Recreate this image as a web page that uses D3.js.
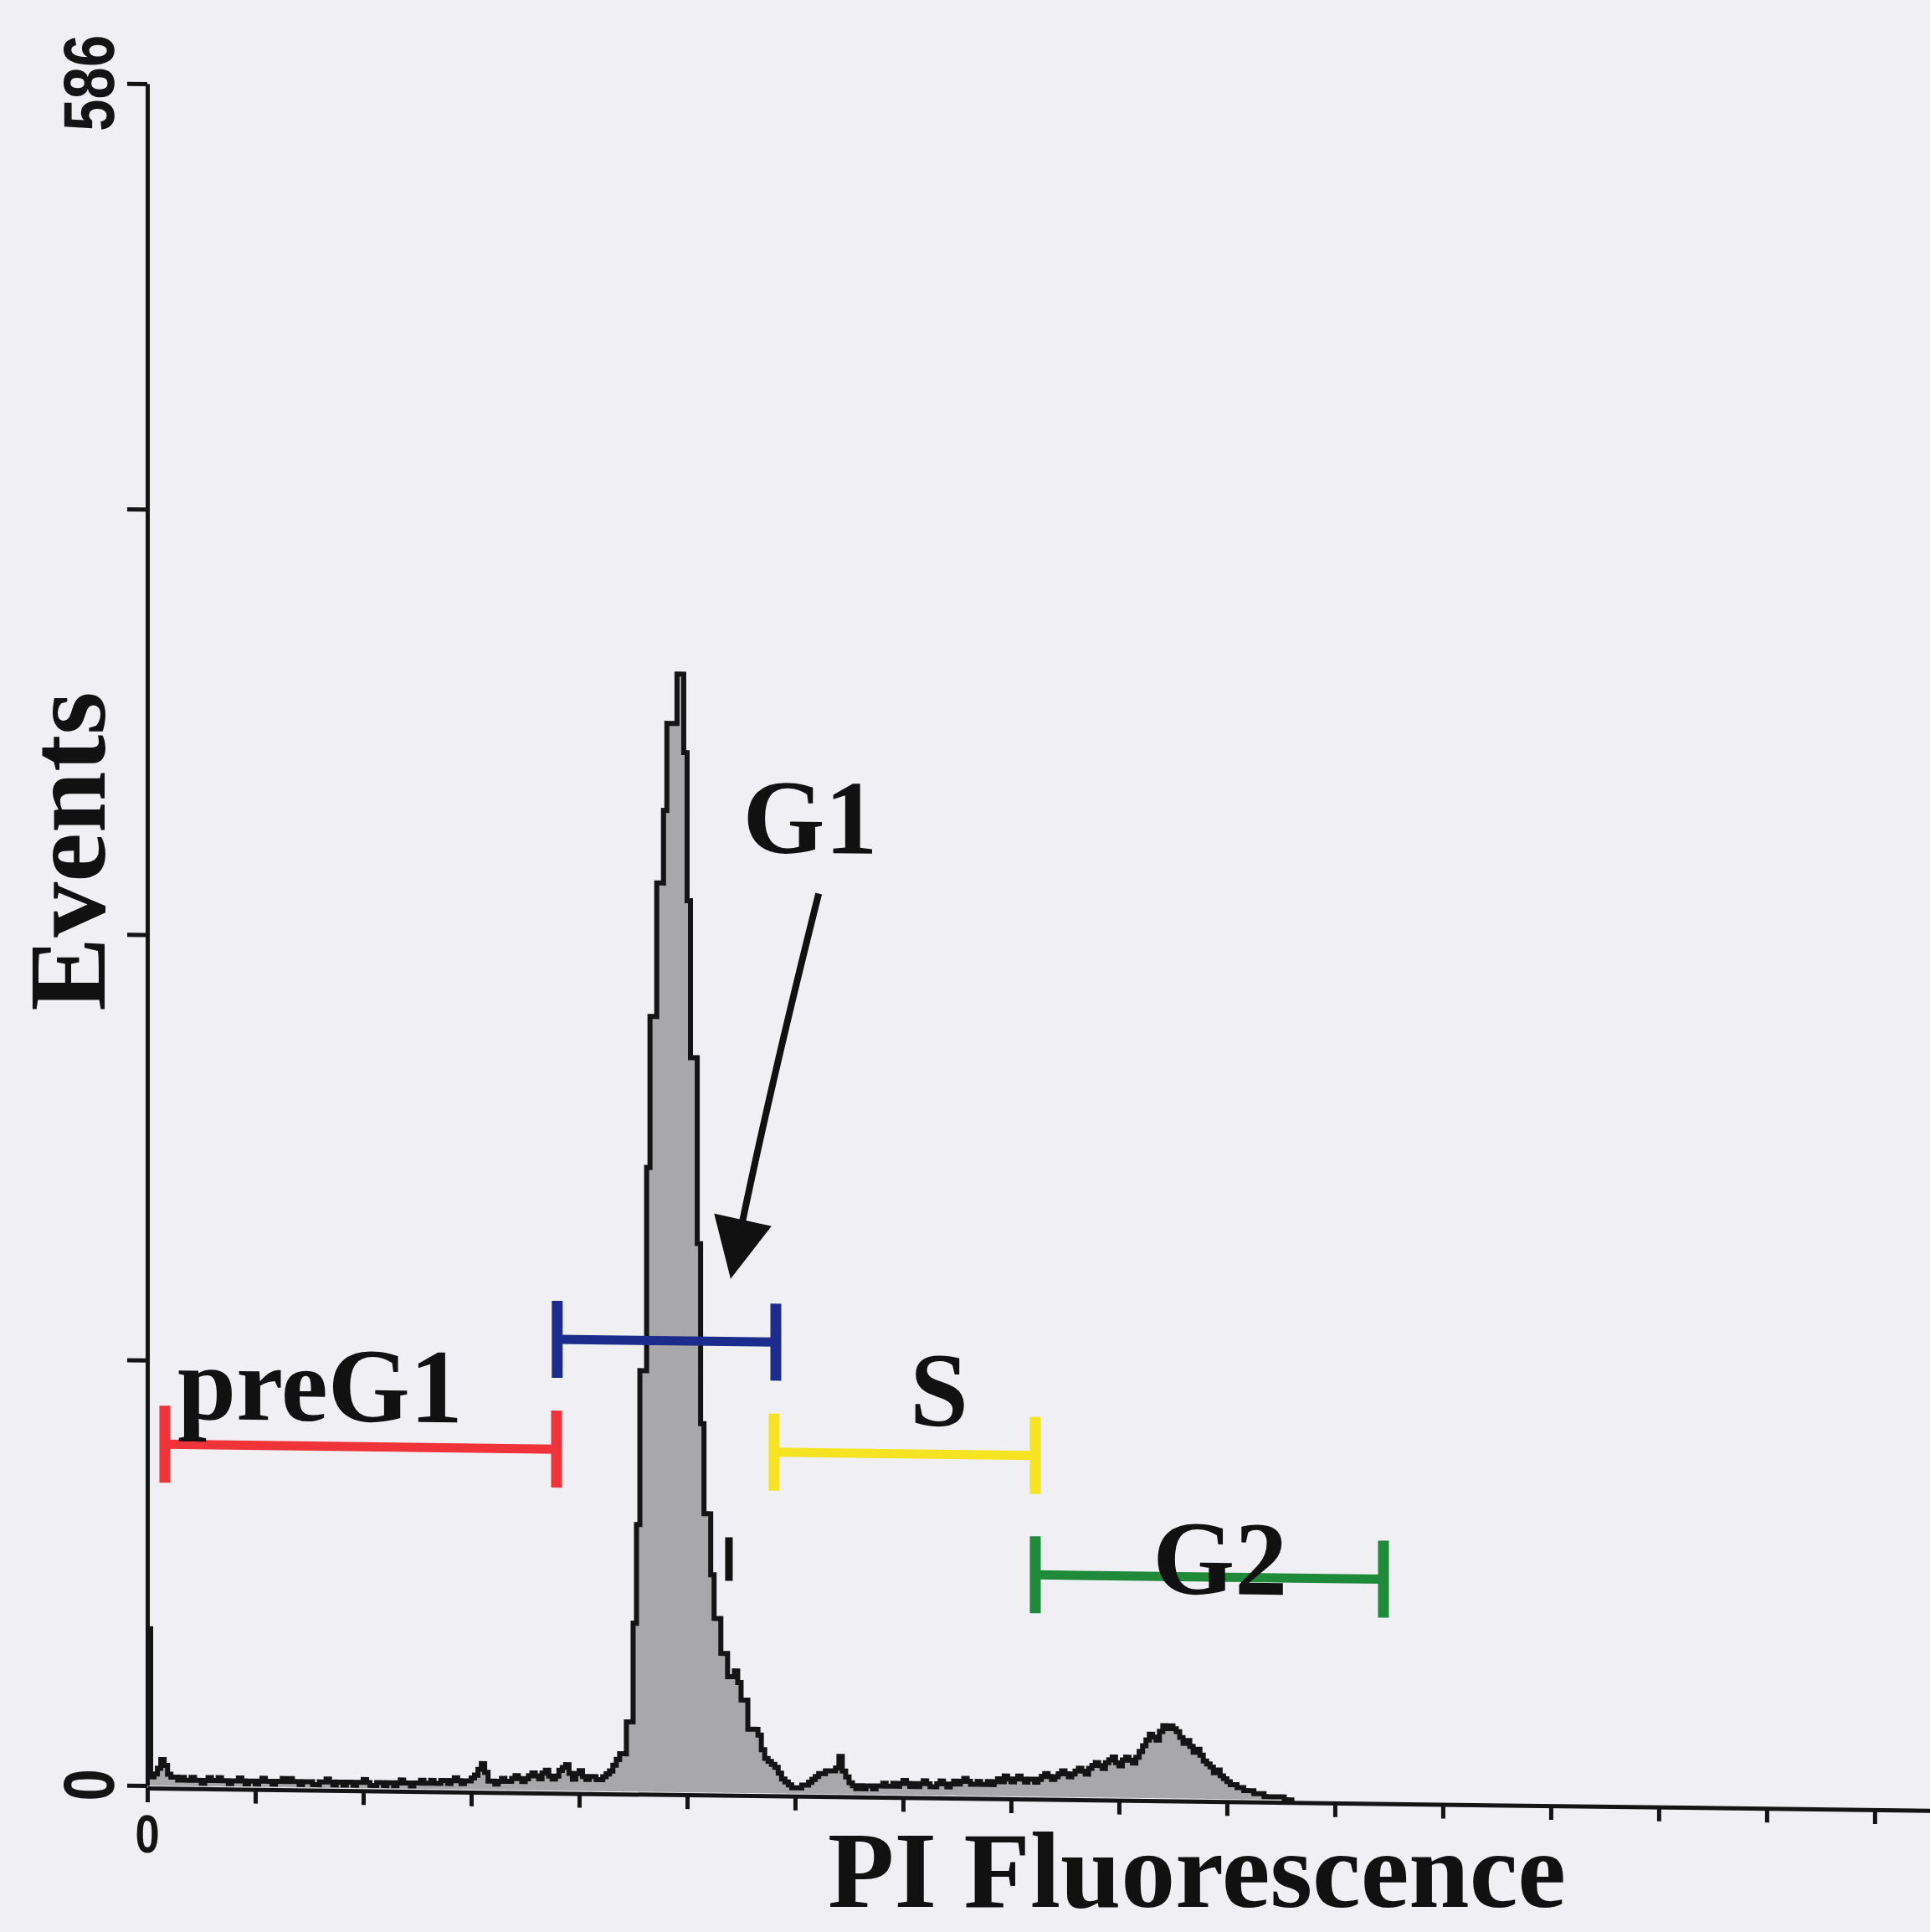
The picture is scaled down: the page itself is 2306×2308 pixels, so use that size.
<!DOCTYPE html>
<html><head><meta charset="utf-8">
<script src="https://cdn.jsdelivr.net/npm/d3@7"></script>
<style>html,body{margin:0;padding:0;background:#f0f0f4;} svg{display:block}</style>
</head><body><svg id="c" width="2306" height="2308"></svg>
<script>
// ---- data ----
const binWidth = 2; // channels per histogram bin
const counts = [
  54,3,4,6,9,7,4,3,3,2,3,2,2,3,2,2,1,2,3,2,
  2,3,2,2,1,2,2,3,2,1,2,2,1,2,3,2,2,1,2,2,
  3,2,3,2,2,1,2,2,2,1,1,2,2,3,2,1,2,2,1,2,
  2,1,2,2,3,2,1,1,2,2,1,2,2,1,2,3,2,2,1,2,
  2,3,2,2,3,2,2,3,3,2,3,4,3,2,3,3,4,5,7,9,
  6,3,3,2,3,4,3,3,4,5,4,3,4,5,6,5,4,6,7,5,
  4,5,7,8,9,6,4,6,7,5,4,5,5,4,4,5,6,7,9,11,
  13,13,24,24,58,92,145,145,215,267,267,313,313,338,368,368,368,385,385,358,
  307,253,253,189,127,96,96,75,60,60,48,48,40,40,42,38,32,32,22,22,
  22,20,15,12,11,10,9,7,5,4,3,2,2,2,3,3,4,5,6,7,
  7,8,8,8,9,13,8,6,4,3,2,3,2,3,3,2,3,3,4,3,
  3,4,3,4,5,4,3,4,3,4,5,4,3,3,4,5,4,3,4,5,
  4,5,6,5,4,4,5,4,4,5,4,5,6,5,7,6,5,6,7,6,
  5,6,6,5,6,7,8,7,6,7,8,9,8,7,8,9,10,9,8,10,
  11,12,11,10,12,13,14,12,11,13,14,13,12,14,16,18,20,22,21,20,
  23,25,24,25,24,23,21,19,20,18,16,17,15,13,12,11,9,10,8,7,
  6,5,5,4,4,3,3,3,2,2,2,1,1,1,1,1,1,0,0,0
];
const yTicks = [0, 146.5, 293, 439.5, 586];
const yTickLabels = ["0", "", "", "", "586"];
const xTicks = d3.range(0, 1025, 64);
const xTickLabels = xTicks.map(v => v === 0 ? "0" : "");

const gateNames  = ["preG1", "G1", "S", "G2"];
const gateStarts = [10.4, 243, 371.6, 526.4];
const gateEnds   = [242.6, 372.6, 526.4, 732.8];
const gateLevels = [117.6, 155.4, 117.5, 76.4];
const gateColors = ["#ef3339", "#1c2c8c", "#f6e322", "#1f8b3a"];
const labelCh    = [17.9, 353, 452, 596];
const labelCount = [126.4, 324, 127.4, 70.6];
const arrowFrom = [398, 310];   // [channel, count]
const arrowTo   = [345.8, 177];

// ---- scales ----
const W = 2306, H = 2308;
const x = d3.scaleLinear().domain([0, 1056.8]).range([176, 2306]);
const y = d3.scaleLinear().domain([0, 586]).range([2133, 100]);

const svg = d3.select('#c');
svg.append('rect').attr('width', W).attr('height', H).attr('fill', '#f0f0f4');

const g = svg.append('g')
  .attr('transform', `translate(${x(0)},${y(0)}) skewY(0.72) translate(${-x(0)},${-y(0)})`);

// histogram
const pts = counts.map((c, i) => [i * binWidth, c]);
pts.push([counts.length * binWidth, 0]);
const area = d3.area().x(d => x(d[0])).y0(y(0)).y1(d => y(d[1])).curve(d3.curveStepAfter);
const line = d3.line().x(d => x(d[0])).y(d => y(d[1])).curve(d3.curveStepAfter);
g.append('path').datum(pts).attr('d', area).attr('fill', '#a8a7aa');
g.append('path').datum(pts).attr('d', line).attr('fill', 'none')
  .attr('stroke', '#141414').attr('stroke-width', 6).attr('stroke-linejoin', 'miter');

// axes
const xAxis = g.append('g').attr('transform', `translate(0,${y(0) + 3})`)
  .call(d3.axisBottom(x).tickValues(xTicks).tickSize(17).tickSizeOuter(0).tickFormat(''));
const yAxis = g.append('g').attr('transform', `translate(${x(0)},0)`)
  .call(d3.axisLeft(y).tickValues(yTicks).tickSize(24).tickSizeOuter(0).tickFormat(''));
[xAxis, yAxis].forEach(a => {
  a.select('.domain').attr('stroke', '#141414').attr('stroke-width', 5);
  a.selectAll('.tick line').attr('stroke', '#141414').attr('stroke-width', 5);
});

// tick labels
yTicks.forEach((v, i) => {
  if (!yTickLabels[i]) return;
  g.append('text').text(yTickLabels[i])
    .attr('transform', `translate(${x(0) - 40},${y(v)}) rotate(-90) scale(0.8,1)`)
    .attr('text-anchor', 'middle')
    .attr('font-family', 'Liberation Sans, Arial, sans-serif')
    .attr('font-weight', 'bold')
    .attr('font-size', 86).attr('fill', '#141414');
});
xTicks.forEach((v, i) => {
  if (!xTickLabels[i]) return;
  g.append('text').text(xTickLabels[i])
    .attr('transform', `translate(${x(v)},${y(0) + 80}) scale(0.82,1)`)
    .attr('text-anchor', 'middle')
    .attr('font-family', 'Liberation Sans, Arial, sans-serif')
    .attr('font-weight', 'bold')
    .attr('font-size', 64).attr('fill', '#141414');
});

// gates
const half = 46;
gateNames.forEach((n, i) => {
  const gg = g.append('g').attr('stroke', gateColors[i]).attr('stroke-linecap', 'butt');
  const yy = y(gateLevels[i]);
  gg.append('line').attr('x1', x(gateStarts[i])).attr('x2', x(gateEnds[i]))
    .attr('y1', yy).attr('y2', yy).attr('stroke-width', 11);
  [gateStarts[i], gateEnds[i]].forEach(c => {
    gg.append('line').attr('x1', x(c)).attr('x2', x(c))
      .attr('y1', yy - half).attr('y2', yy + half).attr('stroke-width', 13);
  });
  g.append('text').text(n)
    .attr('x', x(labelCh[i])).attr('y', y(labelCount[i]))
    .attr('font-family', 'Liberation Serif, Times New Roman, serif')
    .attr('font-weight', 'bold').attr('font-size', 126).attr('fill', '#111');
});

// arrow
const ax0 = x(arrowFrom[0]), ay0 = y(arrowFrom[1]);
const ax1 = x(arrowTo[0]), ay1 = y(arrowTo[1]);
const headLen = 72, headHalf = 35;
const cx = (ax0 + ax1) / 2 - 5, cy = (ay0 + ay1) / 2;
let dx = ax1 - cx, dy = ay1 - cy; const L = Math.hypot(dx, dy); dx /= L; dy /= L;
const bx = ax1 - dx * headLen, by = ay1 - dy * headLen;
g.append('path').attr('d', `M${ax0},${ay0} Q${cx},${cy} ${bx + dx * 8},${by + dy * 8}`)
  .attr('fill', 'none').attr('stroke', '#111').attr('stroke-width', 8);
g.append('path').attr('d', `M${ax1},${ay1} L${bx - dy * headHalf},${by + dx * headHalf} L${bx + dy * headHalf},${by - dx * headHalf} Z`)
  .attr('fill', '#111');

// small stray mark near the G1 shoulder
g.append('line').attr('x1', x(344.8)).attr('x2', x(344.8)).attr('y1', y(73)).attr('y2', y(88))
  .attr('stroke', '#111').attr('stroke-width', 9);

// axis titles
svg.append('text').text('Events')
  .attr('transform', `translate(125,1017) rotate(-90)`)
  .attr('text-anchor', 'middle')
  .attr('font-family', 'Liberation Serif, Times New Roman, serif')
  .attr('font-weight', 'bold').attr('font-size', 132).attr('fill', '#111');
svg.append('text').text('PI Fluorescence')
  .attr('x', 989).attr('y', 2278)
  .attr('font-family', 'Liberation Serif, Times New Roman, serif')
  .attr('font-weight', 'bold').attr('font-size', 130).attr('fill', '#111');
</script>
</body></html>
